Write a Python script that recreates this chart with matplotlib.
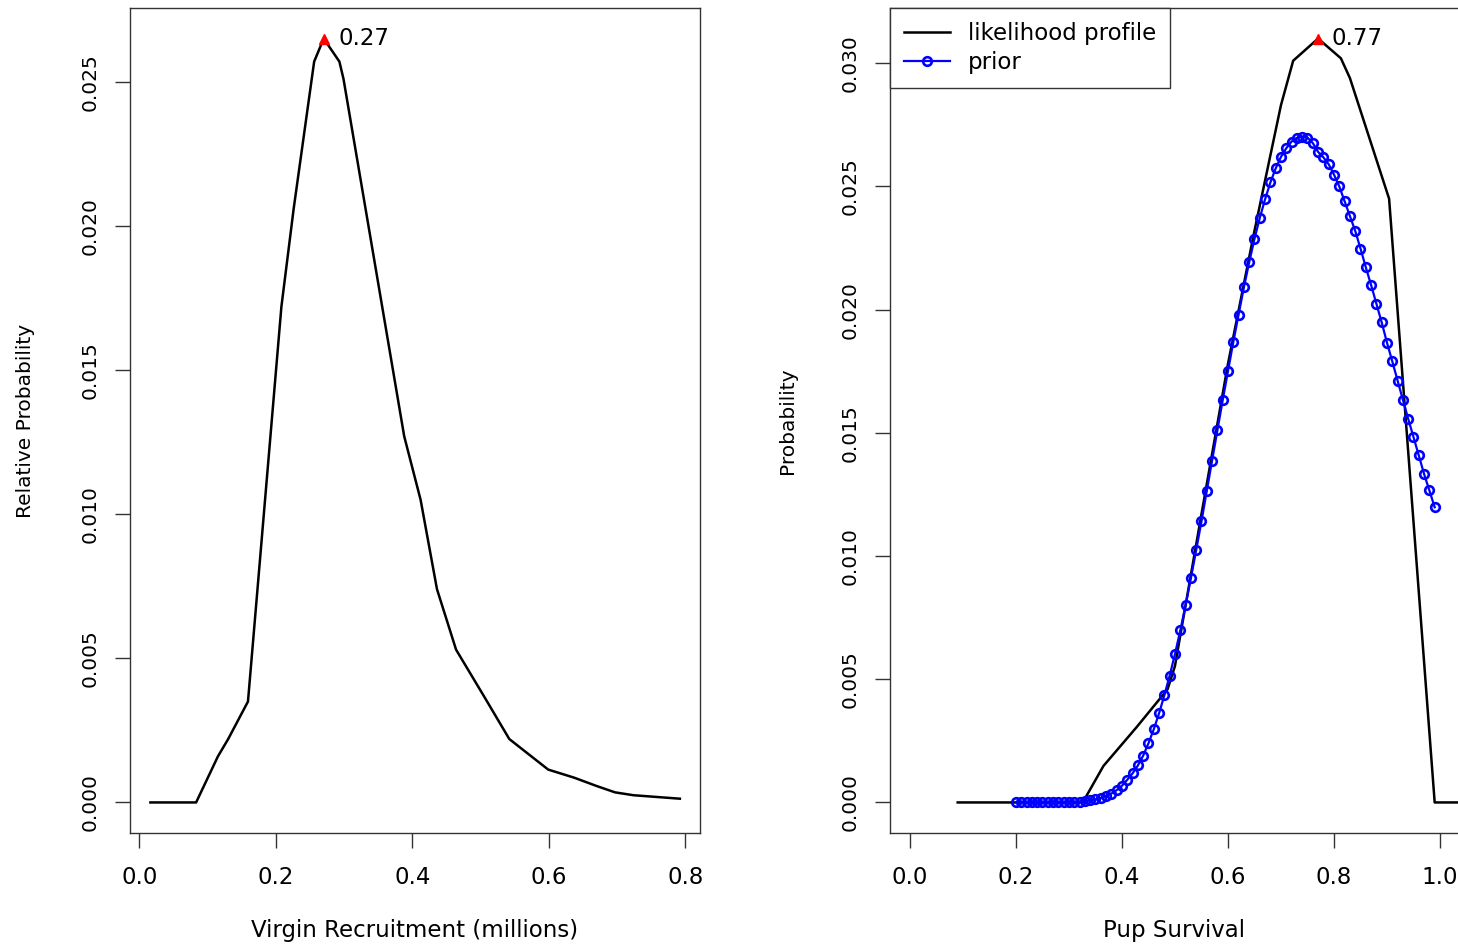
import numpy as np
import matplotlib.pyplot as plt
from matplotlib.lines import Line2D

# Left panel: virgin recruitment likelihood profile
r0 = [0.016, 0.083, 0.115, 0.130, 0.159, 0.208, 0.226, 0.256, 0.270, 0.293,
      0.299, 0.388, 0.412, 0.436, 0.464, 0.507, 0.542, 0.599, 0.637, 0.670,
      0.697, 0.724, 0.792]
r0_prob = [0.0, 0.0, 0.0016, 0.0022, 0.0035, 0.0172, 0.0206, 0.0257, 0.0265, 0.0257,
           0.0251, 0.0127, 0.0105, 0.0074, 0.0053, 0.0036, 0.0022, 0.00114, 0.00086, 0.00057,
           0.00035, 0.00025, 0.00013]
r0_peak = (0.27, 0.0265)

# Right panel: pup survival likelihood profile and prior
surv = [0.09, 0.326, 0.365, 0.427, 0.486, 0.500, 0.550, 0.600, 0.650, 0.700,
        0.723, 0.770, 0.813, 0.830, 0.904, 0.990, 1.05]
surv_prob = [0.0, 0.0, 0.00148, 0.00304, 0.00459, 0.00554, 0.0117, 0.0178, 0.0232, 0.0283,
             0.0301, 0.0310, 0.0302, 0.0294, 0.0245, 0.0, 0.0]
surv_peak = (0.77, 0.0310)

prior_x = np.round(np.arange(20, 100) / 100, 2)
prior_y = [0.0, 0.0, 0.0, 0.0, 0.0, 0.0, 0.0, 0.0, 0.0, 0.0,
           0.00001, 0.00002, 0.00003, 0.00005, 0.00008, 0.00012, 0.00018, 0.00026, 0.00036, 0.00050,
           0.00068, 0.00092, 0.00118, 0.00150, 0.00190, 0.00240, 0.00297, 0.00362, 0.00435, 0.00515,
           0.00602, 0.00698, 0.00800, 0.00910, 0.01024, 0.01141, 0.01264, 0.01387, 0.01510, 0.01632,
           0.01750, 0.01868, 0.01980, 0.02090, 0.02192, 0.02287, 0.02372, 0.02448, 0.02516, 0.02573,
           0.02620, 0.02655, 0.02682, 0.02697, 0.02702, 0.02698, 0.02676, 0.02640, 0.02618, 0.02590,
           0.02548, 0.02500, 0.02440, 0.02380, 0.02320, 0.02248, 0.02172, 0.02100, 0.02024, 0.01948,
           0.01866, 0.01790, 0.01712, 0.01634, 0.01557, 0.01483, 0.01408, 0.01333, 0.01266, 0.01198]

W, H = 1458, 946
fig = plt.figure(figsize=(W / 100, H / 100), dpi=100)
ax1 = fig.add_axes([130 / W, 113 / H, 570 / W, 825 / H])
ax2 = fig.add_axes([890 / W, 113 / H, 568 / W, 825 / H])

HFONT = 16.5
VFONT = 14.5
EDGE = '#333333'


def style(ax, xlim, ylim, xticks, yticks, ylabel, xlabel, ylab_x):
    ax.set_xlim(xlim)
    ax.set_ylim(ylim)
    ax.set_xticks(xticks)
    ax.set_xticklabels([f"{v:.1f}" for v in xticks], fontsize=HFONT)
    ax.set_yticks(yticks)
    ax.set_yticklabels([f"{v:.3f}" for v in yticks], fontsize=VFONT,
                       rotation=90, va='center')
    ax.tick_params(length=11, width=1, color=EDGE, direction='out')
    ax.tick_params(axis='x', pad=13)
    ax.tick_params(axis='y', pad=11)
    for s in ax.spines.values():
        s.set_linewidth(1.0)
        s.set_color(EDGE)
    ax.set_xlabel(xlabel, fontsize=HFONT)
    ax.xaxis.set_label_coords(0.5, -0.1176)
    ax.xaxis.label.set_va('center')
    ax.set_ylabel(ylabel, fontsize=VFONT)
    ax.yaxis.set_label_coords(ylab_x, 0.5)
    ax.yaxis.label.set_va('center')


yt = [0.0, 0.005, 0.010, 0.015, 0.020, 0.025]

# left
ax1.plot(r0, r0_prob, color='black', lw=1.8)
ax1.plot(*r0_peak, marker='^', color='red', ms=7.5, ls='none')
ax1.annotate(f"{r0_peak[0]:.2f}", xy=r0_peak, xytext=(11, 0), textcoords='offset points',
             ha='left', va='center', fontsize=HFONT)
style(ax1, (-0.0139, 0.8215), (-0.00106, 0.02756), [0.0, 0.2, 0.4, 0.6, 0.8], yt,
      'Relative Probability', 'Virgin Recruitment (millions)', -0.184)

# right
ax2.plot(surv, surv_prob, color='black', lw=1.8)
ax2.plot(prior_x, prior_y, color='blue', lw=1.6, marker='o', ms=6.2,
         mfc='none', mec='blue', mew=1.9)
ax2.plot(*surv_peak, marker='^', color='red', ms=7.5, ls='none')
ax2.annotate(f"{surv_peak[0]:.2f}", xy=surv_peak, xytext=(10, 0), textcoords='offset points',
             ha='left', va='center', fontsize=HFONT)
style(ax2, (-0.0377, 1.034), (-0.00124, 0.03224), [0.0, 0.2, 0.4, 0.6, 0.8, 1.0],
      yt + [0.030], 'Probability', 'Pup Survival', -0.181)
ax2.spines['right'].set_visible(False)

handles = [Line2D([], [], color='black', lw=1.8),
           Line2D([], [], color='blue', lw=1.6, marker='o', ms=6.2, mfc='none', mew=1.9)]
leg = ax2.legend(handles, ['likelihood profile', 'prior'], loc='upper left',
                 bbox_to_anchor=(0, 1), borderaxespad=0, fancybox=False,
                 edgecolor=EDGE, framealpha=1, fontsize=HFONT, handlelength=2.0,
                 handletextpad=0.8, labelspacing=0.28, borderpad=0.6)
leg.get_frame().set_linewidth(1.0)

fig.savefig('out.png', dpi=100)
